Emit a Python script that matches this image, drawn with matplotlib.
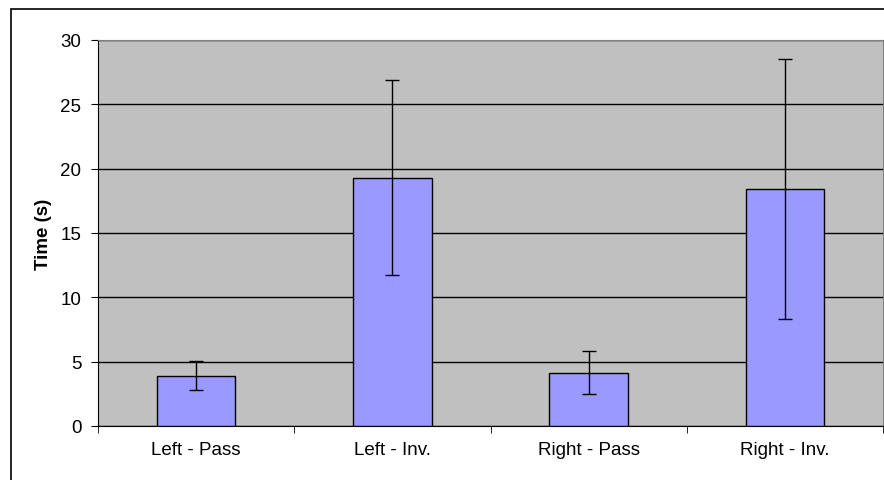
import matplotlib.pyplot as plt
from matplotlib.patches import Rectangle

plt.rcParams['font.family'] = ['Liberation Sans', 'DejaVu Sans']

categories = ['Left - Pass', 'Left - Inv.', 'Right - Pass', 'Right - Inv.']
means = [3.9, 19.3, 4.15, 18.4]
errors = [1.12, 7.6, 1.65, 10.1]

fig = plt.figure(figsize=(8.84, 4.81), dpi=100)
ax = fig.add_axes([98 / 884, 1 - 427 / 481, 785 / 884, 386 / 481])
ax.set_facecolor('#C0C0C0')

x = list(range(len(categories)))
ax.bar(x, means, width=0.4, color='#9999FF', edgecolor='black', linewidth=1, zorder=3)
ax.errorbar(x, means, yerr=errors, fmt='none', ecolor='black', elinewidth=1,
            capsize=5, capthick=1, zorder=4)

ax.set_xlim(-0.5, len(categories) - 0.5)
ax.set_ylim(0, 30)
ax.set_yticks(range(0, 31, 5))
ax.yaxis.grid(True, color='black', linewidth=1)
ax.set_axisbelow(True)

# category labels centered, ticks on boundaries
ax.set_xticks(x)
ax.set_xticklabels(categories, fontsize=13.5)
ax.tick_params(axis='x', length=0, pad=11)
ax.set_xticks([i - 0.5 for i in range(len(categories) + 1)], minor=True)
ax.tick_params(axis='x', which='minor', length=5, direction='out', color='black')
ax.tick_params(axis='y', labelsize=13.5, length=5, direction='out', pad=7)

for side in ['top', 'right']:
    ax.spines[side].set_color('#808080')
ax.spines['left'].set_color('black')
ax.spines['bottom'].set_color('black')

ax.set_ylabel('Time (s)', fontsize=13.5, fontweight='bold', labelpad=6)

# outer chart frame
fig.patches.append(Rectangle((11 / 884, -0.1), 1.0, 1 - 10 / 481 + 0.1,
                             transform=fig.transFigure, fill=False,
                             edgecolor='black', linewidth=1.2))

fig.savefig('out.png', dpi=100)
